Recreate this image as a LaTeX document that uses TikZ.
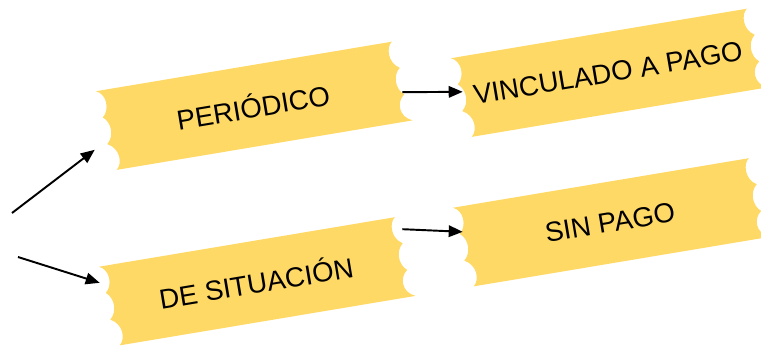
\documentclass[tikz,border=0pt]{standalone}
\usepackage{fontspec}
\setmainfont{Liberation Sans}
\usetikzlibrary{arrows.meta,backgrounds}
\definecolor{tapeyellow}{HTML}{FFD966}

\begin{document}
\begin{tikzpicture}[>={Triangle[length=2.8mm,width=2.3mm]},
		tape/.style={rotate=9.5,minimum width=6cm,minimum height=1.62cm,inner sep=0pt,
			font=\fontsize{15.7}{18}\selectfont},
		link/.style={->,line width=1.1pt}
	]
	\useasboundingbox (0,0) rectangle (15.22,6.92);

	\node[tape] (n0) at (5.06,4.80) {PERIÓDICO};
	\node[tape] (n1) at (5.12,1.29) {DE SITUACIÓN};
	\node[tape] (n2) at (12.16,5.46) {VINCULADO A PAGO};
	\node[tape] (n3) at (12.20,2.47) {SIN PAGO};

	\coordinate (c0) at (0.24,2.66);
	\coordinate (c1) at (0.36,1.78);

	% tape with scalloped ends
	\begin{scope}[on background layer]
		\foreach \n in {n0,n1,n2,n3}
			\fill[tapeyellow,shift={(\n.center)},rotate=9.5]
				(-3,0.81) -- (2.95,0.81)
				.. controls (2.82,0.72) and (2.8,0.4) .. (3.02,0.27)
				.. controls (2.86,0.14) and (2.86,-0.14) .. (3.02,-0.27)
				.. controls (2.84,-0.4) and (2.84,-0.7) .. (3.1,-0.81)
				-- (-2.9,-0.81)
				.. controls (-2.76,-0.7) and (-2.76,-0.4) .. (-3,-0.27)
				.. controls (-2.84,-0.14) and (-2.84,0.14) .. (-3,0.27)
				.. controls (-2.84,0.4) and (-2.84,0.72) .. (-3.05,0.81)
				-- cycle;
	\end{scope}

	\draw[link] (c0) -- ([xshift=-0.20cm,yshift=-0.38cm]n0.west);
	\draw[link] (c1) -- ([xshift=-0.16cm,yshift=0.47cm]n1.west);
	\draw[link] ([xshift=0.02cm,yshift=-0.22cm]n0.east) -- ([xshift=0.06cm,yshift=0.12cm]n2.west);
	\draw[link] ([xshift=-0.04cm,yshift=0.55cm]n1.east) -- ([xshift=0.02cm,yshift=0.31cm]n3.west);

\end{tikzpicture}
\end{document}
